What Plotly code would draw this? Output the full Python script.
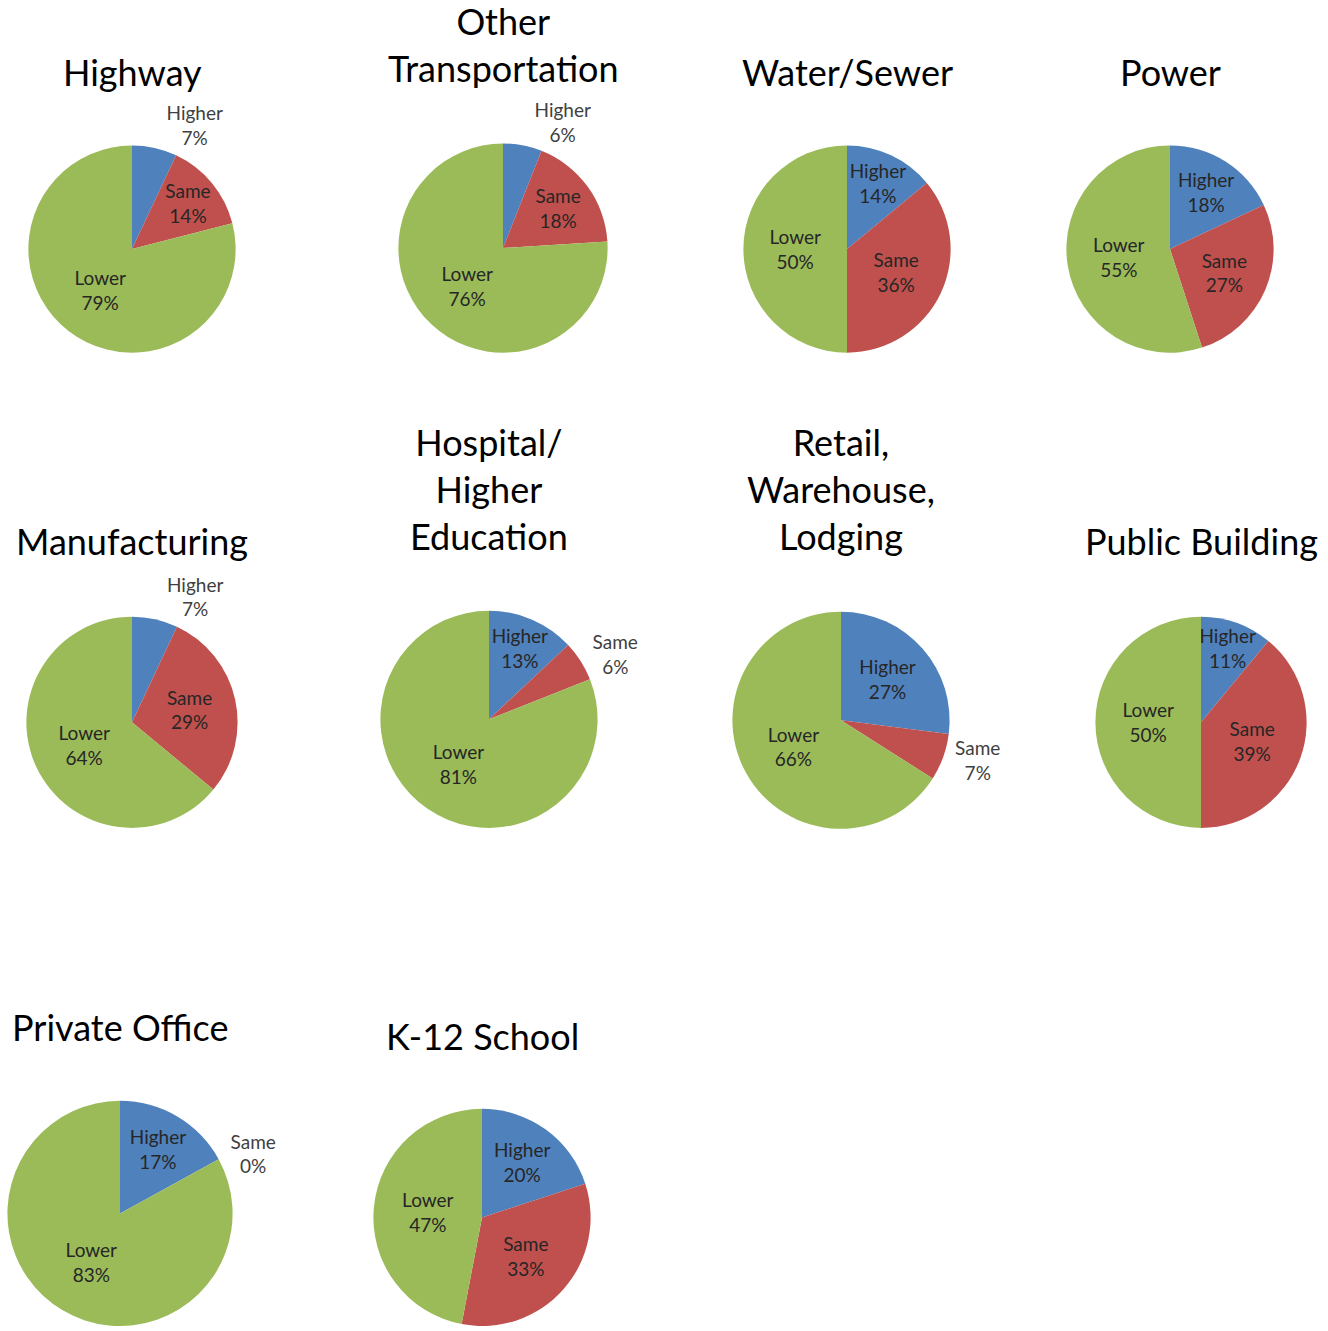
import plotly.graph_objects as go

W, H = 1328, 1331

categories = ["Higher", "Same", "Lower"]
charts = ["Highway", "Other<br>Transportation", "Water/Sewer", "Power",
          "Manufacturing", "Hospital/<br>Higher<br>Education", "Retail,<br>Warehouse,<br>Lodging",
          "Public Building", "Private Office", "K-12 School"]
higher = [7, 6, 14, 18, 7, 13, 27, 11, 17, 20]
same = [14, 18, 36, 27, 29, 6, 7, 39, 0, 33]
lower = [79, 76, 50, 55, 64, 81, 66, 50, 83, 47]

# layout (pixel centres / radii) and label styling
centers = [(132, 250, 104), (503, 249, 105), (847, 250, 104), (1170, 250, 104),
           (132, 725, 106), (489, 722, 109), (841, 723, 109), (1201, 725, 106),
           (120, 1218, 113), (482, 1222, 109)]
positions = [["outside", "inside", "inside"], ["outside", "inside", "inside"],
             ["inside", "inside", "inside"], ["inside", "inside", "inside"],
             ["outside", "inside", "inside"], ["inside", "outside", "inside"],
             ["inside", "outside", "inside"], ["inside", "inside", "inside"],
             ["inside", "outside", "inside"], ["inside", "inside", "inside"]]
outside_size = [19, 17, 19, 19, 19, 19, 19, 19, 19, 19]
title_pos = [(132, 72), (503, 45), (847, 72), (1170, 72),
             (132, 543), (489, 491), (841, 491), (1201, 543),
             (120, 1031), (482, 1040)]
colors = ["#4F81BD", "#C0504D", "#9BBB59"]
FONT = "Lato"

fig = go.Figure()
for i, name in enumerate(charts):
    cx, cy, r = centers[i]
    fig.add_trace(go.Pie(
        labels=categories,
        values=[higher[i], same[i], lower[i]],
        sort=False, direction="clockwise", rotation=0,
        marker=dict(colors=colors, line=dict(width=0)),
        texttemplate="%{label}<br>%{value}%",
        textposition=positions[i],
        insidetextorientation="horizontal",
        insidetextfont=dict(family=FONT, size=19, color="#262626"),
        outsidetextfont=dict(family=FONT, size=outside_size[i], color="#404040"),
        domain=dict(x=[max(0, (cx - r) / W), min(1, (cx + r) / W)],
                    y=[max(0, (H - cy - r) / H), min(1, (H - cy + r) / H)]),
        showlegend=False,
        hoverinfo="label+percent",
    ))
    tx, ty = title_pos[i]
    fig.add_annotation(x=tx / W, y=1 - ty / H, xref="paper", yref="paper",
                       text=name, showarrow=False, xanchor="center", yanchor="middle",
                       font=dict(family=FONT, size=36, color="#000000"))

fig.update_layout(width=W, height=H, margin=dict(l=0, r=0, t=0, b=0),
                  paper_bgcolor="white", plot_bgcolor="white",
                  uniformtext=dict(minsize=19, mode="show"))
fig.write_html("out.html", config={"displayModeBar": False},
               post_script="document.body.style.margin='0';document.body.style.overflow='hidden';")
